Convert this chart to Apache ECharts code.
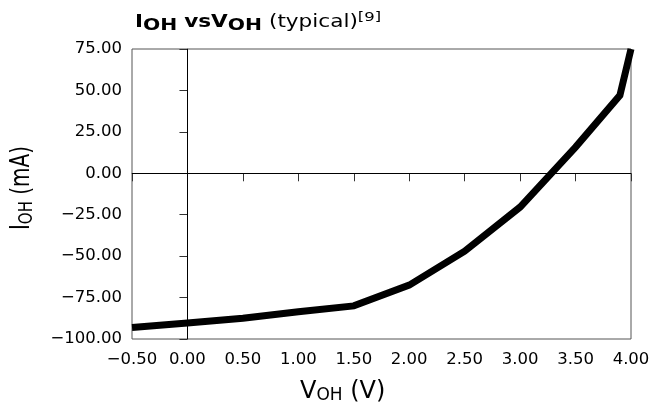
<!DOCTYPE html>
<html lang="en">
<head>
<meta charset="UTF-8">
<title>IOH vs VOH</title>
<script src="https://cdn.jsdelivr.net/npm/echarts@6/dist/echarts.min.js"></script>
<style>
  html, body { margin: 0; padding: 0; background: #fff; }
  #chart { width: 654px; height: 407px; }
</style>
</head>
<body>
<div id="chart"></div>
<script>
// V_OH (V) and I_OH (mA)
var voh = [-0.5, 0, 0.5, 1.0, 1.5, 2.0, 2.5, 3.0, 3.5, 3.9, 4.0];
var ioh = [-93, -90.4, -87.5, -83.5, -80, -67.5, -47, -20.4, 15.8, 47, 75];

var xMin = -0.5, xMax = 4.0, xStep = 0.5;
var yMin = -100, yMax = 75, yStep = 25;

var FONT = 'DejaVu Sans';

function fmt(v) {
  return v.toFixed(2).replace('-', '\u2212');
}

var points = voh.map(function (v, i) { return [v, ioh[i]]; });

var chart = echarts.init(document.getElementById('chart'));

var option = {
  animation: false,
  backgroundColor: '#fff',
  grid: {
    left: 132, right: 23, top: 49, bottom: 68,
    show: true, borderColor: '#555', borderWidth: 1
  },
  xAxis: {
    type: 'value',
    min: xMin, max: xMax, interval: xStep,
    axisLine: { show: true, lineStyle: { color: '#555', width: 1 } },
    axisTick: { show: true, inside: false, length: 8, lineStyle: { color: '#333' } },
    axisLabel: { margin: 12, color: '#000', fontSize: 16.5, fontFamily: FONT, formatter: fmt },
    splitLine: { show: false }
  },
  yAxis: {
    type: 'value',
    min: yMin, max: yMax, interval: yStep,
    axisLine: { show: true, lineStyle: { color: '#555', width: 1 } },
    axisTick: { show: true, inside: false, length: 8, lineStyle: { color: '#333' } },
    axisLabel: { margin: 10, color: '#000', fontSize: 16.5, fontFamily: FONT, formatter: fmt },
    splitLine: { show: false }
  },
  graphic: [
    {
      type: 'text', x: 135, y: 23, scaleX: 1.27,
      style: {
        text: '{b|I}{bs|OH} {b|vs}{b|V}{bs|OH} {n|(typical)}{sup|[9]}',
        fill: '#000', fontSize: 17, fontFamily: FONT,
        verticalAlign: 'middle',
        rich: {
          b: { fontSize: 17, fontWeight: 'bold', fontFamily: FONT, fill: '#000' },
          bs: { fontSize: 16, fontWeight: 'bold', fontFamily: FONT, fill: '#000', padding: [6, 0, 0, 0] },
          n: { fontSize: 17, fontFamily: FONT, fill: '#000' },
          sup: { fontSize: 13, fontFamily: FONT, fill: '#000', padding: [0, 0, 10, 0] }
        }
      }
    },
    {
      type: 'text', x: 22, y: 188, rotation: Math.PI / 2, scaleY: 1.3,
      style: {
        text: '{m|I}{s|OH} {m|(mA)}',
        fill: '#000', fontSize: 20, fontFamily: FONT,
        align: 'center', verticalAlign: 'middle',
        rich: {
          m: { fontSize: 20, fontFamily: FONT, fill: '#000' },
          s: { fontSize: 15, fontFamily: FONT, fill: '#000', padding: [7, 0, 0, 0] }
        }
      }
    },
    {
      type: 'text', x: 300, y: 392,
      style: {
        text: '{m|V}{s|OH} {m|(V)}',
        fill: '#000', fontSize: 24, fontFamily: FONT,
        verticalAlign: 'middle',
        rich: {
          m: { fontSize: 24, fontFamily: FONT, fill: '#000' },
          s: { fontSize: 17, fontFamily: FONT, fill: '#000', padding: [8, 0, 0, 0] }
        }
      }
    }
  ],
  series: [
    {
      type: 'line',
      data: points,
      showSymbol: false,
      symbol: 'none',
      lineStyle: { color: '#000', width: 7, cap: 'butt', join: 'miter' },
      markLine: {
        silent: true,
        symbol: 'none',
        label: { show: false },
        lineStyle: { color: '#000', width: 1, type: 'solid' },
        data: [{ xAxis: 0 }, { yAxis: 0 }]
      },
      z: 3
    }
  ]
};

chart.setOption(option);
</script>
</body>
</html>
